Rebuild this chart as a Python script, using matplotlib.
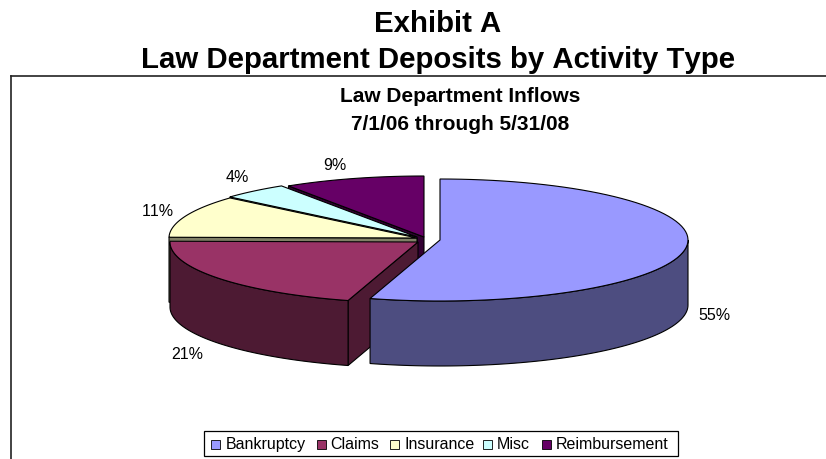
import numpy as np
import matplotlib
matplotlib.use("Agg")
import matplotlib.pyplot as plt
from matplotlib.patches import Polygon, Rectangle

plt.rcParams["font.family"] = ["Liberation Sans", "DejaVu Sans"]
plt.rcParams["text.kerning_factor"] = 6

# slice values, clockwise from 12 o'clock
categories = ["Bankruptcy", "Claims", "Insurance", "Misc", "Reimbursement"]
values = [54.55, 20.65, 11.2, 4.4, 9.2]
colors = ["#9999ff", "#993366", "#ffffcc", "#ccffff", "#660066"]
side_colors = ["#4d4d80", "#4d1a33", "#808066", "#668080", "#330033"]
label_pos = [(714, 316), (187, 355), (158, 212), (237, 178), (335, 166)]

# each slice has its own pulled-out centre (screen pixels)
centers = [(440, 241), (418, 243), (417, 239), (417, 238), (424, 238)]
RX, RY, DEPTH = 248, 61, 65


def rim(center, a, b, n=80):
    """Points along the ellipse, angles in degrees clockwise from the top."""
    t = np.radians(np.linspace(a, b, n))
    return np.column_stack([center[0] + RX * np.sin(t), center[1] - RY * np.cos(t)])


def draw_slice(ax, center, a, b, color, side):
    lw = 0.8
    # radial wall on the leading edge, only when it faces the viewer
    if a > 180:
        p = rim(center, a, a, 1)[0]
        wall = [center, p, p + [0, DEPTH], (center[0], center[1] + DEPTH)]
        ax.add_patch(Polygon(wall, fc=side, ec="black", lw=lw))
    # outer wall for the part of the rim on the front half
    lo, hi = max(a, 90), min(b, 270)
    if lo < hi:
        arc = rim(center, lo, hi)
        ax.add_patch(Polygon(np.vstack([arc, arc[::-1] + [0, DEPTH]]), fc=side, ec="black", lw=lw))
    top = np.vstack([[center], rim(center, a, b)])
    ax.add_patch(Polygon(top, fc=color, ec="black", lw=lw))


fig = plt.figure(figsize=(8.26, 4.60), dpi=100)
ax = fig.add_axes([0, 0, 1, 1])
ax.set_xlim(0, 826)
ax.set_ylim(460, 0)
ax.axis("off")

ax.text(438, 24, "Exhibit A", ha="center", va="center", fontsize=21.2, fontweight="bold")
ax.text(438, 60, "Law Department Deposits by Activity Type", ha="center", va="center",
        fontsize=21.2, fontweight="bold")

# chart frame runs off the right and bottom of the picture
ax.plot([10.5, 10.5], [460, 77], color="#222222", lw=1.2)
ax.plot([10.5, 826], [77, 77], color="#222222", lw=1.2)

ax.text(460, 97, "Law Department Inflows", ha="center", va="center", fontsize=15, fontweight="bold")
ax.text(460, 124, "7/1/06 through 5/31/08", ha="center", va="center", fontsize=15, fontweight="bold")

edges = np.concatenate([[0], np.cumsum(values)]) / sum(values) * 360
for i in [4, 3, 2, 1, 0]:
    draw_slice(ax, centers[i], edges[i], edges[i + 1], colors[i], side_colors[i])

for v, (x, y) in zip(values, label_pos):
    ax.text(x, y, f"{v:.0f}%", ha="center", va="center", fontsize=11.5)

# legend
ax.add_patch(Rectangle((204, 432), 474, 25, fc="white", ec="black", lw=0.9))
swatch_x = [211, 317, 390, 483, 542]
text_x = [226, 330, 405, 497, 556]
for name, c, x, tx in zip(categories, colors, swatch_x, text_x):
    ax.add_patch(Rectangle((x, 441), 9, 9, fc=c, ec="black", lw=0.6))
    ax.text(tx, 445, name, ha="left", va="center", fontsize=11.5)

fig.savefig("out.png", dpi=100)
